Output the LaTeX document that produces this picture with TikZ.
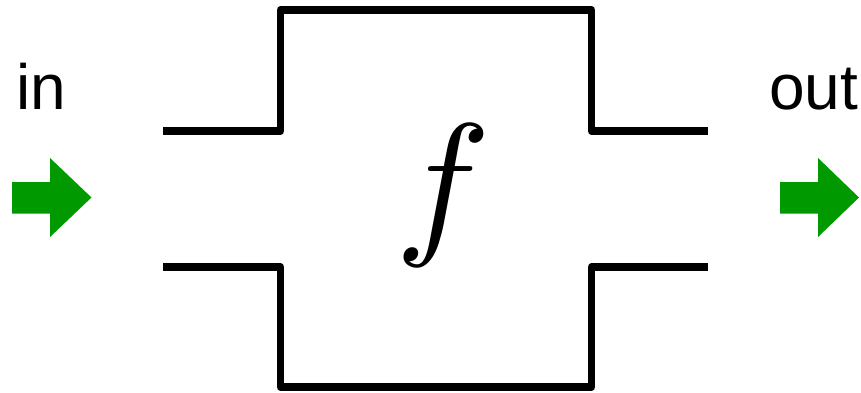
\documentclass[tikz,border=0pt]{standalone}
\usepackage{fontspec}
\setsansfont{Liberation Sans}
\definecolor{arrowgreen}{RGB}{0,153,0}
\tikzset{
  pipe/.style={draw=black,line width=7.6pt,line join=round,line cap=butt},
  flow/.style={fill=arrowgreen,draw=none},
  lab/.style={font=\sffamily\fontsize{64}{64}\selectfont,text=black,inner sep=0pt,anchor=base}
}
\begin{document}
\begin{tikzpicture}[x=1pt,y=-1pt]
\useasboundingbox (0,0) rectangle (861,393);
\draw[pipe] (163,131) -- (280.5,131) -- (280.5,10) -- (591.5,10) -- (591.5,131) -- (708,131);
\draw[pipe] (163,267) -- (280.5,267) -- (280.5,387) -- (591.5,387) -- (591.5,267) -- (708,267);
\fill[flow] (12,182) -- (50,182) -- (50,158) -- (91.5,197.5) -- (50,237) -- (50,213.5) -- (12,213.5) -- cycle;
\fill[flow] (780,182) -- (818,182) -- (818,158) -- (859,197.5) -- (818,237) -- (818,213.5) -- (780,213.5) -- cycle;
\node[lab] (in) at (41,109.5) {in};
\node[lab] (out) at (813.5,109.5) {out};
\node[inner sep=0pt] (f) at (443,195.5) {\scalebox{16}{$f$}};
\end{tikzpicture}
\end{document}
